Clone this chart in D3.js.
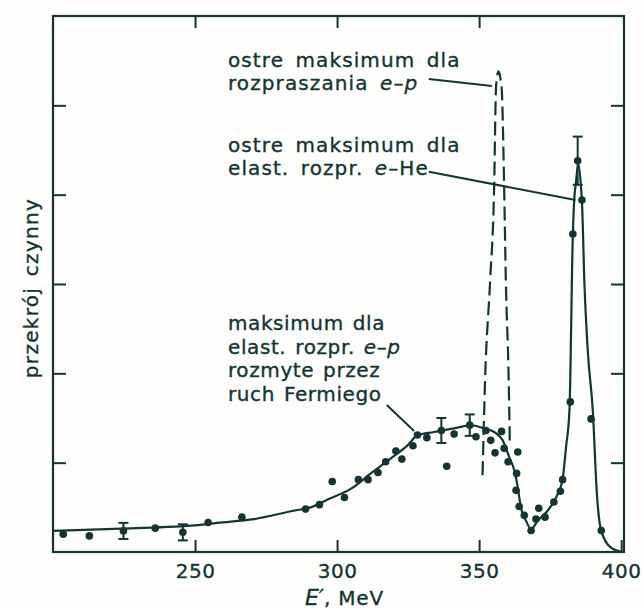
<!DOCTYPE html>
<html><head><meta charset="utf-8">
<script src="https://cdn.jsdelivr.net/npm/d3@7"></script>
<style>body{margin:0;background:#fdfdfb}svg{display:block}</style>
</head><body>
<svg id="c" width="644" height="611"></svg>
<script>
// ---- data (E' in MeV, cross-section in arbitrary units) ----
const xTicks = [250, 300, 350, 400];
const yTicks = [1, 2, 3, 4, 5];

const pointE = [203.6,212.8,236.0,254.6,266.5,288.9,293.8,298.3,302.6,307.5,310.9,314.4,317.1,320.7,322.8,326.7,328.3,331.6,338.6,341.2,348.9,352.4,354.1,355.6,357.9,358.8,360.2,363.6,363.2,363.0,364.1,365.9,368.3,370.0,371.0,373.2,376.3,378.6,379.4,382.1,383.0,386.2,389.4,393.0];
const pointV = [0.20,0.18,0.267,0.33,0.39,0.48,0.53,0.79,0.61,0.81,0.81,0.89,1.01,1.13,1.04,1.19,1.31,1.28,0.96,1.32,1.29,1.36,1.25,1.11,1.35,1.16,1.01,1.12,0.88,0.69,0.51,0.41,0.24,0.37,0.49,0.39,0.56,0.68,0.81,1.68,3.56,3.94,1.49,0.24];

const errE = [224.8, 245.7, 336.7, 346.7, 384.7];
const errV = [0.236, 0.22, 1.36, 1.42, 4.38];
const errD = [0.09, 0.09, 0.14, 0.12, 0.27];

const fitE = [200,224.2,250.7,257.7,270.7,284.7,290.7,296.5,304.8,312.4,318.9,324.8,328.3,334.1,342.4,347.1,351.8,355.3,358.3,360.6,362.4,363.6,364.7,366.5,368.3,370.6,374.1,377.1,379.4,380.6,381.8,383.0,383.5,384.1,384.9,385.9,386.2,387.1,388.3,390.0,391.5,392.9,396.4,400.4];
const fitV = [0.236,0.262,0.30,0.326,0.368,0.462,0.50,0.586,0.706,0.893,1.047,1.194,1.306,1.343,1.393,1.419,1.382,1.343,1.25,1.062,0.912,0.724,0.499,0.349,0.256,0.349,0.462,0.611,0.819,1.175,1.588,3.56,3.95,4.14,4.35,4.07,3.92,2.98,2.23,1.59,0.63,0.248,0.048,0];

const epE = [351.2,352.1,353.9,355.3,355.9,356.3,356.8,357.4,358.0,358.8,359.4,360.4,360.8];
const epV = [0.86,1.93,3.05,4.10,5.16,5.32,5.38,5.32,5.16,4.10,3.05,1.93,1.23];

const annoLines = [
  ["ostre maksimum dla", "rozpraszania |e|–|p|"],
  ["ostre maksimum dla", "elast. rozpr. |e|–He"],
  ["maksimum dla", "elast. rozpr. |e|–|p|", "rozmyte przez", "ruch Fermiego"]
];
const annoE = [261.6, 261.6, 261.6];
const annoV = [5.43, 4.478, 2.485];
const leaderE = [[332.3, 354.5], [332.3, 383.9], [317.5, 327.1]];
const leaderV = [[5.295, 5.217], [4.257, 3.94], [1.646, 1.355]];

const xLabel = "E′";
const xUnit = ", MeV";
const yLabel = "przekrój czynny";

// ---- drawing ----
const ink = "#133634";
const font = "DejaVu Sans";
const svg = d3.select("#c");
svg.append("rect").attr("width", 644).attr("height", 611).attr("fill", "#fdfdfb");

const x = d3.scaleLinear().domain([200, 401]).range([53, 624]);
const y = d3.scaleLinear().domain([0, 6]).range([552, 16]);
const X0 = x.range()[0], X1 = x.range()[1], Y0 = y.range()[0], Y1 = y.range()[1];

function inkText(sel) {
  return sel.attr("fill", ink).attr("font-family", font).attr("stroke", ink).attr("stroke-width", 0.35);
}

// axes with inward ticks
const gB = svg.append("g").attr("transform", `translate(0,${Y0})`)
  .call(d3.axisBottom(x).tickValues(xTicks).tickSize(-12).tickPadding(12).tickFormat(d3.format("d")));
const gT = svg.append("g").attr("transform", `translate(0,${Y1})`)
  .call(d3.axisTop(x).tickValues(xTicks.slice(0, 3)).tickSize(-12).tickFormat(""));
const gL = svg.append("g").attr("transform", `translate(${X0},0)`)
  .call(d3.axisLeft(y).tickValues(yTicks).tickSize(-13).tickFormat(""));
const gR = svg.append("g").attr("transform", `translate(${X1},0)`)
  .call(d3.axisRight(y).tickValues(yTicks).tickSize(-13).tickFormat(""));
[gB, gT, gL, gR].forEach(g => {
  g.select(".domain").remove();
  g.selectAll(".tick line").attr("stroke", ink).attr("stroke-width", 2);
  inkText(g.selectAll("text")).attr("font-size", 20).attr("letter-spacing", 0.5);
});

// frame
svg.append("rect").attr("x", X0).attr("y", Y1).attr("width", X1 - X0).attr("height", Y0 - Y1)
  .attr("fill", "none").attr("stroke", ink).attr("stroke-width", 2.2);

// fitted curve
const line = d3.line().x(d => x(d[0])).y(d => y(d[1])).curve(d3.curveMonotoneX);
svg.append("path").datum(fitE.map((e, i) => [e, fitV[i]])).attr("d", line)
  .attr("fill", "none").attr("stroke", ink).attr("stroke-width", 2.2);

// e-p sharp peak (dashed)
svg.append("path").datum(epE.map((e, i) => [e, epV[i]])).attr("d", line)
  .attr("fill", "none").attr("stroke", ink).attr("stroke-width", 2.2).attr("stroke-dasharray", "14,6");

// points
svg.append("g").selectAll("circle").data(pointE.map((e, i) => [e, pointV[i]])).join("circle")
  .attr("cx", d => x(d[0])).attr("cy", d => y(d[1])).attr("r", 3.8).attr("fill", ink);

// error bars
const eg = svg.append("g").selectAll("g").data(errE.map((e, i) => [e, errV[i], errD[i]])).join("g");
eg.append("line").attr("x1", d => x(d[0])).attr("x2", d => x(d[0]))
  .attr("y1", d => y(d[1] + d[2])).attr("y2", d => y(d[1] - d[2])).attr("stroke", ink).attr("stroke-width", 2);
eg.append("line").attr("x1", d => x(d[0]) - 5).attr("x2", d => x(d[0]) + 5)
  .attr("y1", d => y(d[1] + d[2])).attr("y2", d => y(d[1] + d[2])).attr("stroke", ink).attr("stroke-width", 2);
eg.append("line").attr("x1", d => x(d[0]) - 5).attr("x2", d => x(d[0]) + 5)
  .attr("y1", d => y(d[1] - d[2])).attr("y2", d => y(d[1] - d[2])).attr("stroke", ink).attr("stroke-width", 2);
eg.append("circle").attr("cx", d => x(d[0])).attr("cy", d => y(d[1])).attr("r", 3.8).attr("fill", ink);

// annotations
annoLines.forEach((lines, k) => {
  const t = inkText(svg.append("text")).attr("font-size", 20)
    .attr("letter-spacing", k < 2 ? 1.1 : 0.6).attr("word-spacing", k < 2 ? 4 : 2)
    .attr("x", x(annoE[k])).attr("y", y(annoV[k]));
  lines.forEach((ln, j) => {
    const parts = ln.split("|");
    parts.forEach((p, m) => {
      const ts = t.append("tspan").text(p);
      if (m === 0) ts.attr("x", x(annoE[k])).attr("dy", j === 0 ? 0 : 23.5);
      if (m % 2 === 1) ts.attr("font-style", "italic");
    });
  });
  svg.append("line").attr("x1", x(leaderE[k][0])).attr("y1", y(leaderV[k][0]))
    .attr("x2", x(leaderE[k][1])).attr("y2", y(leaderV[k][1])).attr("stroke", ink).attr("stroke-width", 2);
});

// axis titles
const xl = inkText(svg.append("text")).attr("font-size", 20).attr("x", 305).attr("y", 605);
xl.append("tspan").attr("font-style", "italic").attr("font-size", 22).text(xLabel);
xl.append("tspan").attr("letter-spacing", 0.8).text(xUnit);

inkText(svg.append("text")).attr("font-size", 20)
  .attr("letter-spacing", 1.3).attr("word-spacing", 3).attr("text-anchor", "middle")
  .attr("transform", "translate(38,288) rotate(-90)").text(yLabel);
</script>
</body></html>
